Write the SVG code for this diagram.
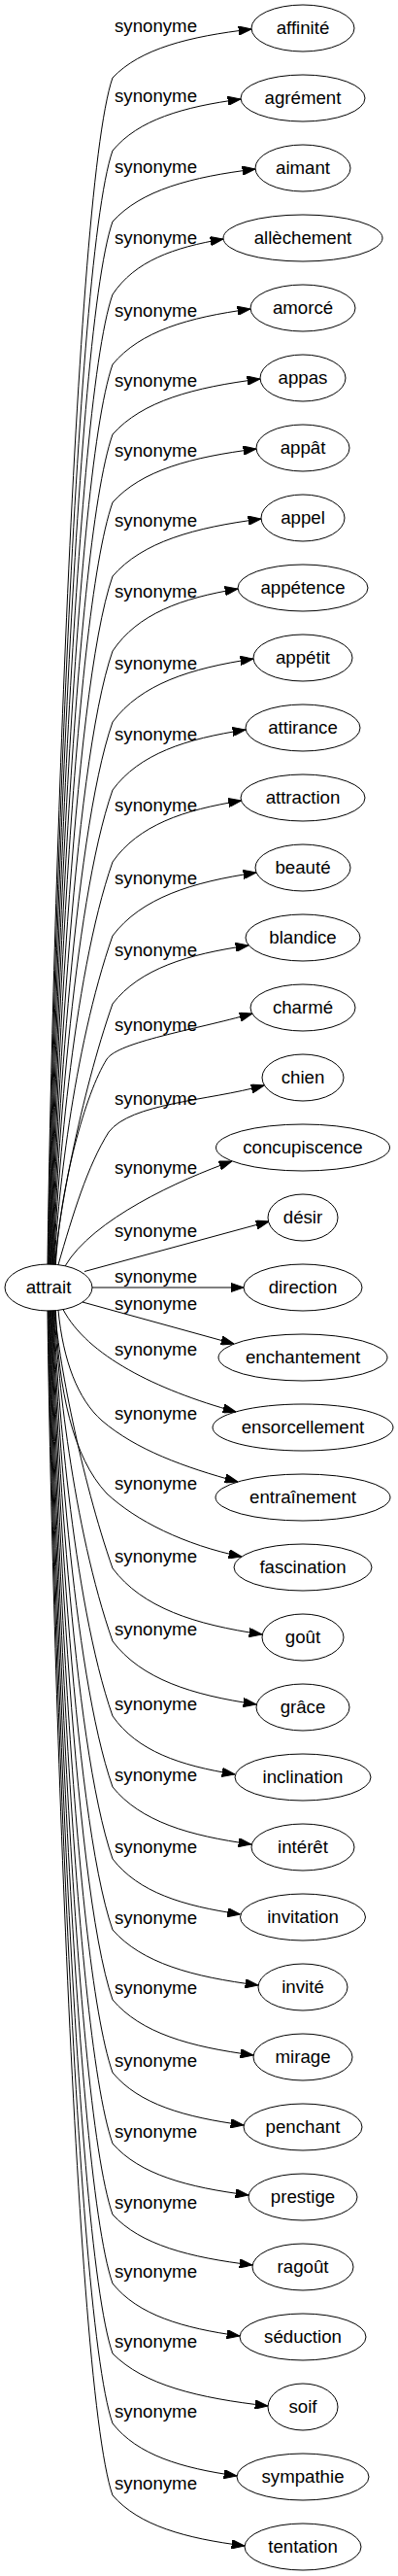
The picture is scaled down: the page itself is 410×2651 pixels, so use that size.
<svg xmlns="http://www.w3.org/2000/svg" width="410" height="2651" viewBox="0 0 410 2651">
<style>
.n ellipse{fill:none;stroke:#000;stroke-width:1}
text{font-family:"Liberation Sans",Arial,sans-serif;font-size:18.67px;fill:#000}
.n text{text-anchor:middle}
.e path{fill:none;stroke:#000;stroke-width:1;marker-end:url(#ah)}
.e text{text-anchor:middle}
</style>
<defs>
<marker id="ah" markerUnits="userSpaceOnUse" viewBox="0 0 13.33 9.33" markerWidth="13.33" markerHeight="9.33" refX="13.33" refY="4.67" orient="auto"><path d="M0,0 L13.33,4.67 L0,9.33 z" fill="#000" stroke="#000" stroke-width="1"/></marker>
</defs>
<rect width="410" height="2651" fill="#fff"/>
<g id="edges" class="e">
<g id="e-affinite"><path d="M49,1301.2 C51,1099.7 74,200 116,80 C144.6,50 194.7,37.5 259,30"/><text x="160.5" y="32.5">synonyme</text></g>
<g id="e-agrement"><path d="M49.6,1301.2 C51.6,1112.1 74,275 116,155 C142.4,123.2 188.6,110 248,102"/><text x="160.5" y="104.9">synonyme</text></g>
<g id="e-aimant"><path d="M50.2,1301.2 C52.2,1124.1 74,348 116,228 C145.4,195.6 196.9,182.1 263,174"/><text x="160.5" y="177.5">synonyme</text></g>
<g id="e-allechement"><path d="M50.8,1301.2 C52.8,1136.5 74,423 116,303 C138.8,268.8 178.7,254.6 230,246"/><text x="160.5" y="251.4">synonyme</text></g>
<g id="e-amorce"><path d="M51.4,1301.2 C53.4,1148.4 74,495 116,375 C144.4,340.8 194.1,326.6 258,318"/><text x="160.5" y="325.5">synonyme</text></g>
<g id="e-appas"><path d="M52,1301.2 C54,1160.3 74,567 116,447 C146.4,412.8 199.6,398.6 268,390"/><text x="160.5" y="397.5">synonyme</text></g>
<g id="e-appat"><path d="M52.6,1301.2 C54.6,1171.8 74,637 116,517 C145.6,484 197.4,470.3 264,462"/><text x="160.5" y="469.9">synonyme</text></g>
<g id="e-appel"><path d="M53.2,1301.2 C55.2,1184.3 74,713 116,593 C146.6,557.6 200.2,542.9 269,534"/><text x="160.5" y="541.5">synonyme</text></g>
<g id="e-appetence"><path d="M53.8,1301.2 C55.8,1197.1 74,790 116,670 C141.8,631.6 187,615.6 245,606"/><text x="160.5" y="614.9">synonyme</text></g>
<g id="e-appetit"><path d="M54.4,1301.2 C56.4,1209.1 74,863 116,743 C145,704 195.8,687.8 261,678"/><text x="160.5" y="688.9">synonyme</text></g>
<g id="e-attirance"><path d="M55,1301.2 C57,1220.6 74,933 116,813 C143.4,775.8 191.4,760.3 253,751"/><text x="160.5" y="762.2">synonyme</text></g>
<g id="e-attraction"><path d="M55.6,1301.2 C57.6,1232.9 74,1007 116,887 C142.5,849.2 188.9,833.5 248.5,824"/><text x="160.5" y="834.9">synonyme</text></g>
<g id="e-beaute"><path d="M56.2,1301.2 C58.2,1245.4 74.6,1081.4 116,963 C145.6,924 197.4,907.8 264,898"/><text x="160.5" y="909.9">synonyme</text></g>
<g id="e-blandice"><path d="M56.8,1301.2 C58.8,1256.9 83.1,1126.9 116,1033 C144,997 193,982 256,973"/><text x="160.5" y="983.9">synonyme</text></g>
<g id="e-charme"><path d="M57.4,1301.3 C62,1220 88,1125 110,1090 C122,1072 200,1060 260,1043"/><text x="160.5" y="1060.9">synonyme</text></g>
<g id="e-chien"><path d="M60,1301.6 C75,1250 90,1200 112,1165 C135,1135 214,1133 272,1117"/><text x="160.5" y="1136.5">synonyme</text></g>
<g id="e-concupiscence"><path d="M67,1303 C95,1255 185,1214 239,1195"/><text x="160.5" y="1207.9">synonyme</text></g>
<g id="e-desir"><path d="M87,1308.5 L277,1257"/><text x="160.5" y="1272.9">synonyme</text></g>
<g id="e-direction"><path d="M95,1325 L251,1325"/><text x="160.5" y="1319.9">synonyme</text></g>
<g id="e-enchantement"><path d="M85,1340 L241,1383"/><text x="160.5" y="1347.5">synonyme</text></g>
<g id="e-ensorcellement"><path d="M65,1347.6 C90,1395 160,1430 243,1453"/><text x="160.5" y="1394.9">synonyme</text></g>
<g id="e-entrainement"><path d="M60,1348.4 C65,1400 80,1440 105,1462 C140,1492 190,1510 245,1525"/><text x="160.5" y="1460.9">synonyme</text></g>
<g id="e-fascination"><path d="M57.4,1348.8 C60,1430 75,1500 110,1537 C140,1565 190,1590 249,1602"/><text x="160.5" y="1533.4">synonyme</text></g>
<g id="e-gout"><path d="M56.8,1348.8 C58.8,1392.6 83.5,1521.2 116,1614 C146.8,1654.8 200.7,1671.8 270,1682"/><text x="160.5" y="1607.9">synonyme</text></g>
<g id="e-grace"><path d="M56.2,1348.8 C58.2,1404.9 74.3,1569.9 116,1689 C145.6,1728 197.4,1744.3 264,1754"/><text x="160.5" y="1682.9">synonyme</text></g>
<g id="e-inclination"><path d="M55.6,1348.8 C57.6,1417.6 74,1646 116,1766 C141.2,1802 185.3,1817 242,1826"/><text x="160.5" y="1759.9">synonyme</text></g>
<g id="e-interet"><path d="M55,1348.8 C57,1429.7 74,1719 116,1839 C144.6,1874.4 194.7,1889.2 259,1898"/><text x="160.5" y="1832.9">synonyme</text></g>
<g id="e-invitation"><path d="M54.4,1348.8 C56.4,1441.9 74,1793 116,1913 C142.3,1947.2 188.3,1961.5 247.5,1970"/><text x="160.5" y="1906.9">synonyme</text></g>
<g id="e-invite"><path d="M53.8,1348.8 C55.8,1453.9 74,1866 116,1986 C146,2020.2 198.5,2034.5 266,2043"/><text x="160.5" y="1979.9">synonyme</text></g>
<g id="e-mirage"><path d="M53.2,1348.8 C55.2,1465.8 74,1938 116,2058 C145,2092.2 195.8,2106.5 261,2115"/><text x="160.5" y="2051.9">synonyme</text></g>
<g id="e-penchant"><path d="M52.6,1348.8 C54.6,1478.2 74,2013 116,2133 C143,2165.4 190.3,2178.9 251,2187"/><text x="160.5" y="2126.9">synonyme</text></g>
<g id="e-prestige"><path d="M52,1348.8 C54,1490.2 74,2086 116,2206 C144,2237.8 193,2251 256,2259"/><text x="160.5" y="2199.9">synonyme</text></g>
<g id="e-ragout"><path d="M51.4,1348.8 C53.4,1502.3 74,2159 116,2279 C144.8,2310.2 195.2,2323.2 260,2331"/><text x="160.5" y="2272.9">synonyme</text></g>
<g id="e-seduction"><path d="M50.8,1348.8 C52.8,1514 74,2230 116,2350 C142.2,2382.4 188.1,2395.9 247,2404"/><text x="160.5" y="2343.9">synonyme</text></g>
<g id="e-soif"><path d="M50.2,1348.8 C52.2,1525.9 74,2302 116,2422 C148,2454.4 204,2467.9 276,2476"/><text x="160.5" y="2415.9">synonyme</text></g>
<g id="e-sympathie"><path d="M49.6,1348.8 C51.6,1537.8 74,2374 116,2494 C141.6,2526.4 186.4,2539.9 244,2548"/><text x="160.5" y="2487.9">synonyme</text></g>
<g id="e-tentation"><path d="M49,1348.8 C51,1550 74,2448 116,2568 C143.2,2599.2 190.8,2612.2 252,2620"/><text x="160.5" y="2561.9">synonyme</text></g>
</g>
<g id="n-attrait" class="n"><ellipse cx="50" cy="1325" rx="45" ry="24"/><text x="50" y="1330.6">attrait</text></g>
<g id="n-affinite" class="n"><ellipse cx="312" cy="29" rx="53" ry="24"/><text x="312" y="34.6">affinité</text></g>
<g id="n-agrement" class="n"><ellipse cx="312" cy="101" rx="64" ry="24"/><text x="312" y="106.6">agrément</text></g>
<g id="n-aimant" class="n"><ellipse cx="312" cy="173" rx="49" ry="24"/><text x="312" y="178.6">aimant</text></g>
<g id="n-allechement" class="n"><ellipse cx="312" cy="245" rx="82" ry="24"/><text x="312" y="250.6">allèchement</text></g>
<g id="n-amorce" class="n"><ellipse cx="312" cy="317" rx="54" ry="24"/><text x="312" y="322.6">amorcé</text></g>
<g id="n-appas" class="n"><ellipse cx="312" cy="389" rx="44" ry="24"/><text x="312" y="394.6">appas</text></g>
<g id="n-appat" class="n"><ellipse cx="312" cy="461" rx="48" ry="24"/><text x="312" y="466.6">appât</text></g>
<g id="n-appel" class="n"><ellipse cx="312" cy="533" rx="43" ry="24"/><text x="312" y="538.6">appel</text></g>
<g id="n-appetence" class="n"><ellipse cx="312" cy="605" rx="67" ry="24"/><text x="312" y="610.6">appétence</text></g>
<g id="n-appetit" class="n"><ellipse cx="312" cy="677" rx="51" ry="24"/><text x="312" y="682.6">appétit</text></g>
<g id="n-attirance" class="n"><ellipse cx="312" cy="749" rx="59" ry="24"/><text x="312" y="754.6">attirance</text></g>
<g id="n-attraction" class="n"><ellipse cx="312" cy="821" rx="64" ry="24"/><text x="312" y="826.6">attraction</text></g>
<g id="n-beaute" class="n"><ellipse cx="312" cy="893" rx="49" ry="24"/><text x="312" y="898.6">beauté</text></g>
<g id="n-blandice" class="n"><ellipse cx="312" cy="965" rx="59" ry="24"/><text x="312" y="970.6">blandice</text></g>
<g id="n-charme" class="n"><ellipse cx="312" cy="1037" rx="54" ry="24"/><text x="312" y="1042.6">charmé</text></g>
<g id="n-chien" class="n"><ellipse cx="312" cy="1109" rx="42" ry="24"/><text x="312" y="1114.6">chien</text></g>
<g id="n-concupiscence" class="n"><ellipse cx="312" cy="1181" rx="89.5" ry="24"/><text x="312" y="1186.6">concupiscence</text></g>
<g id="n-desir" class="n"><ellipse cx="312" cy="1253" rx="36" ry="24"/><text x="312" y="1258.6">désir</text></g>
<g id="n-direction" class="n"><ellipse cx="312" cy="1325" rx="61" ry="24"/><text x="312" y="1330.6">direction</text></g>
<g id="n-enchantement" class="n"><ellipse cx="312" cy="1397" rx="87" ry="24"/><text x="312" y="1402.6">enchantement</text></g>
<g id="n-ensorcellement" class="n"><ellipse cx="312" cy="1469" rx="93" ry="24"/><text x="312" y="1474.6">ensorcellement</text></g>
<g id="n-entrainement" class="n"><ellipse cx="312" cy="1541" rx="90" ry="24"/><text x="312" y="1546.6">entraînement</text></g>
<g id="n-fascination" class="n"><ellipse cx="312" cy="1613" rx="71" ry="24"/><text x="312" y="1618.6">fascination</text></g>
<g id="n-gout" class="n"><ellipse cx="312" cy="1685" rx="42" ry="24"/><text x="312" y="1690.6">goût</text></g>
<g id="n-grace" class="n"><ellipse cx="312" cy="1757" rx="48" ry="24"/><text x="312" y="1762.6">grâce</text></g>
<g id="n-inclination" class="n"><ellipse cx="312" cy="1829" rx="70" ry="24"/><text x="312" y="1834.6">inclination</text></g>
<g id="n-interet" class="n"><ellipse cx="312" cy="1901" rx="53" ry="24"/><text x="312" y="1906.6">intérêt</text></g>
<g id="n-invitation" class="n"><ellipse cx="312" cy="1973" rx="64.5" ry="24"/><text x="312" y="1978.6">invitation</text></g>
<g id="n-invite" class="n"><ellipse cx="312" cy="2045" rx="46" ry="24"/><text x="312" y="2050.6">invité</text></g>
<g id="n-mirage" class="n"><ellipse cx="312" cy="2117" rx="51" ry="24"/><text x="312" y="2122.6">mirage</text></g>
<g id="n-penchant" class="n"><ellipse cx="312" cy="2189" rx="61" ry="24"/><text x="312" y="2194.6">penchant</text></g>
<g id="n-prestige" class="n"><ellipse cx="312" cy="2261" rx="56" ry="24"/><text x="312" y="2266.6">prestige</text></g>
<g id="n-ragout" class="n"><ellipse cx="312" cy="2333" rx="52" ry="24"/><text x="312" y="2338.6">ragoût</text></g>
<g id="n-seduction" class="n"><ellipse cx="312" cy="2405" rx="65" ry="24"/><text x="312" y="2410.6">séduction</text></g>
<g id="n-soif" class="n"><ellipse cx="312" cy="2477" rx="36" ry="24"/><text x="312" y="2482.6">soif</text></g>
<g id="n-sympathie" class="n"><ellipse cx="312" cy="2549" rx="68" ry="24"/><text x="312" y="2554.6">sympathie</text></g>
<g id="n-tentation" class="n"><ellipse cx="312" cy="2621" rx="60" ry="24"/><text x="312" y="2626.6">tentation</text></g>
</svg>
